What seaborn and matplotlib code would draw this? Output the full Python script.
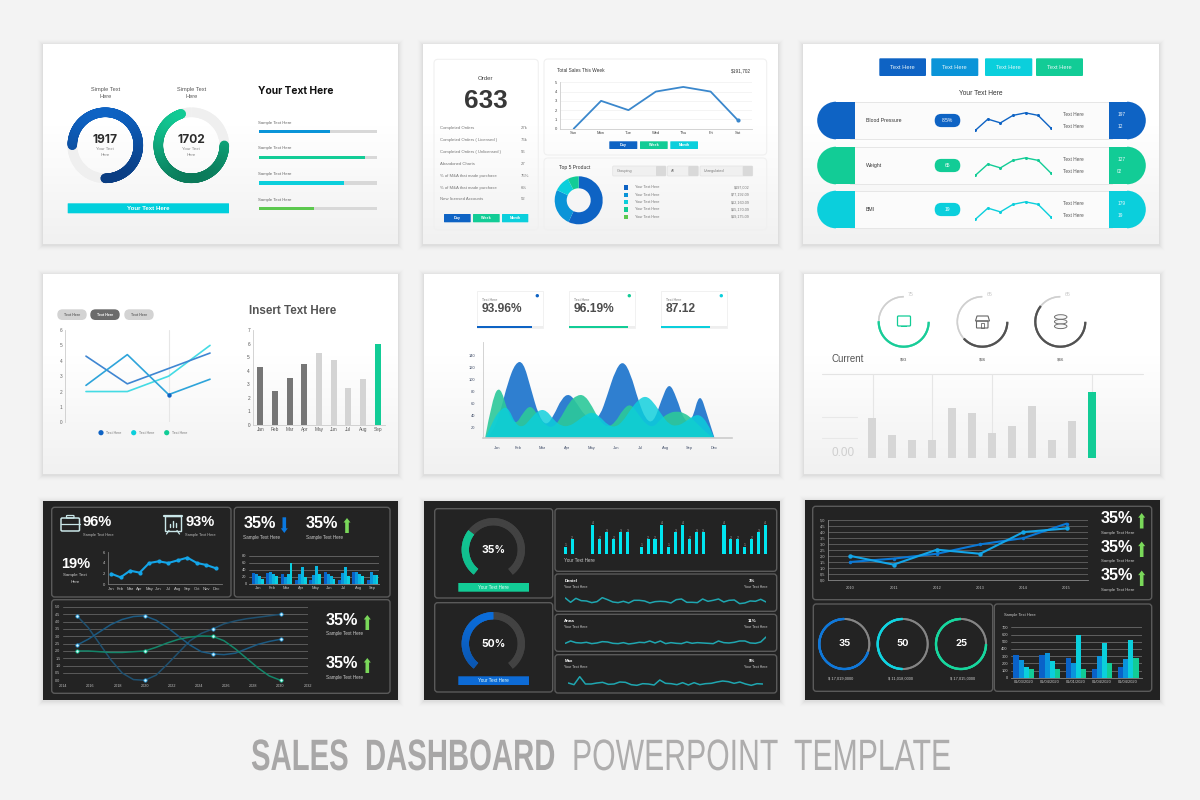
import numpy as np
import pandas as pd
import seaborn as sns
import matplotlib.pyplot as plt
import matplotlib.colors as mcolors
from matplotlib.collections import LineCollection
from matplotlib.path import Path
from matplotlib.patheffects import AbstractPathEffect
from matplotlib.transforms import Affine2D
from matplotlib.patches import Rectangle, FancyBboxPatch, Circle, Ellipse, Polygon, Wedge, FancyArrow, PathPatch

sns.set_theme(style="white")
plt.rcParams["font.family"] = ["Liberation Sans", "DejaVu Sans"]
plt.rcParams["patch.force_edgecolor"] = False
plt.rcParams["patch.linewidth"] = 0

BLUE = "#0e63c4"
MID = "#0a94d8"
CYAN = "#0bcfdc"
GREEN = "#12cc96"
LIME = "#5cc84e"
W, H = 1200, 800

# panel 1
ringLabels = ["1917", "1702"]
ringPct = [75, 70]
progressPct = [60, 90, 72, 47]
progressColors = [MID, GREEN, CYAN, LIME]

# panel 2
orderRows = ["Completed Orders", "Completed Orders ( Licensed )", "Completed Orders ( Unlicensed )", "Abandoned Charts",
             "% of M&A that made purchase", "% of M&A that made purchase", "New licensed Accounts"]
orderVals = ["27k", "76k", "56", "27", "75%", "6%", "52"]
weekDays = ["Sun", "Mon", "Tue", "Wed", "Thu", "Fri", "Sat"]
weekSales = [0, 3, 2, 4, 4.5, 4, 0.9]
productShare = [57, 25, 10.5, 7.5]
productVals = ["$197,002", "$77,192.09", "$62,160.09", "$65,170.09", "$19,175.09"]

# panel 3
vitalNames = ["Blood Pressure", "Weight", "BMI"]
vitalPills = ["8.5%", "65", "19"]
vitalSpark = [1.2, 3.0, 2.4, 3.6, 4.0, 3.6, 1.6]
vitalHigh = ["197", "127", "179"]
vitalLow = ["12", "02", "19"]

# panel 4
lineA = [4.3, 2.5, 3.5, 4.5]
lineB = [2.4, 4.4, 1.8, 2.8]
lineC = [2, 2, 3, 5]
months9 = ["Jan", "Feb", "Mar", "Apr", "May", "Jun", "Jul", "Aug", "Sep"]
monthBars = [4.3, 2.5, 3.5, 4.5, 5.3, 4.8, 2.7, 3.4, 6]

# panel 5
kpiVals = ["93.96%", "96.19%", "87.12"]
kpiPct = [84, 89, 75]
areaBlue = [0, 10, 45, 95, 128, 130, 85, 40, 22, 40, 68, 77, 60, 40, 33, 38, 75, 115, 132, 110, 65, 32, 28, 65, 96, 70, 30, 30, 80, 40, 0]
areaGreen = [0, 70, 90, 45, 23, 45, 58, 38, 22, 20, 38, 62, 74, 74, 55, 30, 20, 28, 50, 60, 42, 25, 20, 35, 44, 47, 44, 35, 22, 10, 0]
areaCyan = [0, 30, 50, 55, 25, 20, 35, 49, 49, 32, 22, 22, 30, 40, 46, 38, 24, 20, 30, 50, 66, 73, 62, 42, 25, 22, 28, 38, 42, 28, 0]
areaMonths = ["Jan", "Feb", "Mar", "Apr", "May", "Jun", "Jul", "Aug", "Sep", "Dec"]
areaMonthPos = [1.6, 4.3, 7.5, 10.7, 13.9, 17.1, 20.3, 23.5, 26.7, 29.9]

# panel 6
dialTop = ["75", "65", "65"]
dialPrice = ["$93", "$36", "$46"]
dialPct = [67, 51, 81]
currentBars = [6.1, 3.55, 2.8, 2.8, 7.5, 6.8, 3.8, 4.8, 7.9, 2.8, 5.65, 9.9]

# panel 7
months12 = ["Jan", "Feb", "Mar", "Apr", "May", "Jun", "Jul", "Aug", "Sep", "Oct", "Nov", "Dec"]
darkMonthly = [1.94, 1.25, 2.5, 2.13, 3.94, 4.25, 3.94, 4.44, 4.94, 3.94, 3.56, 2.94]
groupBars = [[32, 31, 28, 12, 12, 33, 11, 33, 12],
             [28, 33, 20, 29, 25, 27, 30, 34, 34],
             [23, 28, 28, 47, 52, 22, 48, 28, 24],
             [13, 22, 59, 20, 28, 13, 22, 22, 24]]
smoothA = [4.4, 3.6, 2.5, 1.4, 0.5, 0.05, 0, 0.35, 1.1, 1.9, 2.7, 3.2, 3.5, 3.85, 4.05, 4.2, 4.3, 4.4, 4.5]
smoothB = [2.4, 2.8, 3.3, 3.8, 4.15, 4.35, 4.4, 4.1, 3.6, 3.0, 2.4, 1.95, 1.8, 1.75, 1.85, 2.15, 2.45, 2.65, 2.8]
smoothC = [2.0, 2.0, 1.95, 1.9, 1.9, 1.95, 2.0, 2.25, 2.55, 2.8, 2.95, 3.02, 3.0, 2.7, 2.15, 1.5, 0.85, 0.3, 0]
smoothYears = ["2014", "2016", "2018", "2020", "2022", "2024", "2026", "2028", "2030", "2032"]

# panel 8
tickBars = [1, 2, 0, 0, 4, 2, 3, 2, 3, 3, 0, 1, 2, 2, 4, 1, 3, 4, 2, 3, 3, 0, 0, 4, 2, 2, 1, 2, 3, 4]
danielLine = [25, 12, 24, 17, 16, 11, 14, 26, 20, 13, 11, 15, 10, 18, 18, 16, 10, 14, 15, 14, 10, 20, 22, 12, 12, 11, 22, 15, 18, 22, 13, 18, 19, 8, 10, 16, 15, 21, 13]
annaLine = [9, 16, 11, 10, 12, 8, 10, 14, 13, 9, 8, 11, 7, 9, 12, 11, 16, 10, 16, 8, 11, 9, 8, 13, 9, 11, 10, 9, 8, 16, 11, 10, 12, 16, 16, 10, 9, 13, 28]
maxLine = [15, 10, 34, 12, 12, 15, 17, 11, 12, 18, 17, 10, 8, 13, 12, 9, 24, 14, 13, 10, 16, 9, 16, 10, 13, 14, 18, 21, 19, 14, 18, 12, 8, 13, 12]
peopleNames = ["Daniel", "Anna", "Max"]
peoplePct = ["3%", "11%", "9%"]

# panel 9
yearLabels = ["2010", "2011", "2012", "2013", "2014", "2015"]
yearA = [1.52, 1.8, 2.2, 2.98, 3.5, 4.7]
yearB = [2.02, 1.3, 2.54, 2.2, 4.0, 4.3]
circleVals = ["35", "50", "25"]
circlePct = [70, 50, 75]
circleMoney = ["$ 17,019,0000", "$ 11,018,0000", "$ 17,015,0000"]
dateLabels = ["01/03/2020", "01/04/2020", "01/01/2020", "01/04/2020", "01/04/2020"]
dateBars = [[320, 320, 273, 120, 148], [250, 347, 204, 296, 255], [148, 227, 597, 477, 519], [120, 120, 120, 204, 273]]

fig = plt.figure(figsize=(W / 100, H / 100), dpi=100, facecolor="#f3f3f3")
bg = fig.add_axes([0, 0, 1, 1], zorder=0)
bg.set_axis_off()
gradient = np.concatenate([np.ones(40), np.linspace(1, 0, 60)]).reshape(-1, 1)
lightCmap = mcolors.LinearSegmentedColormap.from_list("card", ["#f1f1f1", "#ffffff"])


def panel(x0, y0, x1, y1, xlim=None, ylim=None):
    ax = fig.add_axes([x0 / W, 1 - y1 / H, (x1 - x0) / W, (y1 - y0) / H], zorder=2)
    ax.patch.set_alpha(0)
    ax.limits = (xlim, ylim)
    return ax


def finish(ax, left=False, bottom=False, color="#cccccc", size=3.2, labelcolor="#666666"):
    xlim, ylim = ax.limits
    if xlim:
        ax.set_xlim(*xlim)
    if ylim:
        ax.set_ylim(*ylim)
    ax.set_xlabel("")
    ax.set_ylabel("")
    for side in ["top", "right", "left", "bottom"]:
        ax.spines[side].set_visible(False)
    ax.spines["left"].set_visible(left)
    ax.spines["bottom"].set_visible(bottom)
    ax.spines["left"].set_color(color)
    ax.spines["bottom"].set_color(color)
    ax.spines["left"].set_linewidth(0.6)
    ax.spines["bottom"].set_linewidth(0.6)
    ax.tick_params(length=0, pad=2, labelsize=size, labelcolor=labelcolor)


def txt(x, y, s, px=5, color="#555555", ha="left", weight="normal", family=None):
    kw = {"family": family} if family else {}
    bg.text(x, y, s, fontsize=px * 0.72, color=color, ha=ha, va="center", weight=weight, parse_math=False, zorder=5, **kw)


def rrect(x0, y0, x1, y1, radius=0, fc="none", ec="none", lw=0.8, z=2):
    bg.add_patch(FancyBboxPatch((x0, y0), x1 - x0, y1 - y0, boxstyle=f"round,pad=0,rounding_size={radius}",
                                fc=fc, ec=ec, lw=lw, zorder=z))


def button(x0, y0, x1, y1, s, fc, px=4.5, radius=0.5, color="white", weight="bold"):
    rrect(x0, y0, x1, y1, radius, fc=fc)
    txt((x0 + x1) / 2, (y0 + y1) / 2, s, px, color, "center", weight)


def arc(cx, cy, r, start, sweep, lwPx, top, bottom=None, cap="butt", z=3):
    # angles run clockwise from 12 o'clock
    bottom = bottom or top
    a = np.radians(np.linspace(start, start + sweep, int(max(abs(sweep), 8)) + 1))
    xs, ys = cx + r * np.sin(a), cy - r * np.cos(a)
    n = len(xs) - 1
    # each piece runs over the next one, otherwise the track shows through the joints
    segs = [list(zip(xs[i:i + 3], ys[i:i + 3])) for i in range(n)]
    c0, c1 = np.array(mcolors.to_rgb(top)), np.array(mcolors.to_rgb(bottom))
    cols = [c0 + (c1 - c0) * ((ys[i] - cy + r) / (2 * r)) for i in range(n)]
    bg.add_collection(LineCollection(segs, colors=cols, linewidths=lwPx * 0.72, capstyle=cap, zorder=z))


def card(x0, y0, x1, y1, dark=False):
    for i, alpha in zip(range(6, 0, -1), [0.004, 0.008, 0.012, 0.016, 0.02, 0.025]):
        bg.add_patch(Rectangle((x0 - i, y0 - i + 1), x1 - x0 + 2 * i, y1 - y0 + 2 * i, fc="#000000", alpha=alpha, ec="none", zorder=1))
    if dark:
        bg.add_patch(Rectangle((x0, y0), x1 - x0, y1 - y0, fc="#222222", ec="none", zorder=1.5))
    else:
        bg.imshow(gradient, extent=(x0, x1, y1, y0), cmap=lightCmap, aspect="auto", zorder=1.5, vmin=0, vmax=1)


def darkbox(x0, y0, x1, y1):
    rrect(x0, y0, x1, y1, 3, fc="#232323", ec="#5a5a5a", lw=1.0)


def darkbars(ax):
    ax.grid(axis="y", color="#6a6a6a", lw=0.6)
    ax.set_axisbelow(True)


def arrow(x, y0, y1, color):
    # y0 is the tail, y1 the head
    d = y1 - y0
    bg.add_patch(FancyArrow(x, y0, 0, d, width=3.6, head_width=7, head_length=abs(d) * 0.3, length_includes_head=True, fc=color, ec="none", zorder=4))


def smoothArea(ax, xs, ys, color, alpha):
    # quadratic curve through the midpoints, the read values are the control points
    verts = [(xs[0], 0), (xs[0], ys[0])]
    codes = [Path.MOVETO, Path.LINETO]
    for i in range(1, len(xs) - 1):
        verts += [(xs[i], ys[i]), ((xs[i] + xs[i + 1]) / 2, (ys[i] + ys[i + 1]) / 2)]
        codes += [Path.CURVE3, Path.CURVE3]
    verts += [(xs[-1], ys[-1]), (xs[-1], 0), (xs[0], 0)]
    codes += [Path.LINETO, Path.LINETO, Path.CLOSEPOLY]
    ax.add_patch(PathPatch(Path(verts, codes), fc=color, alpha=alpha, ec="none"))


class Squeeze(AbstractPathEffect):
    # no condensed font is installed, so narrow the glyphs of the text instead
    def __init__(self, anchor, sx):
        super().__init__()
        self.anchor, self.sx = anchor, sx

    def draw_path(self, renderer, gc, tpath, affine, rgbFace=None):
        squeezed = affine + Affine2D().translate(-self.anchor, 0).scale(self.sx, 1).translate(self.anchor, 0)
        renderer.draw_path(gc, tpath, squeezed, rgbFace)


def narrowText(anchor, width, s, ha, weight, color):
    t = bg.text(anchor, 770, s, fontsize=31.6, weight=weight, color=color, ha=ha, va="baseline", zorder=5)
    box = t.get_window_extent(fig.canvas.get_renderer())
    t.set_path_effects([Squeeze(anchor, width / box.width)])


cards = [(43, 44, 398, 244), (423, 44, 778, 244), (803, 44, 1159, 244),
         (43, 274, 398, 474), (424, 274, 779, 474), (804, 274, 1160, 474)]
for c in cards:
    card(*c)
for c in [(43, 501, 398, 700), (424, 501, 780, 700), (805, 500, 1160, 700)]:
    card(*c, dark=True)

# ---- panel 1: rings and progress bars
for cx, label, pct, start, cTop, cBottom in zip([105.3, 191.3], ringLabels, ringPct, [270, 90], [BLUE, GREEN], ["#0a3d82", "#0b7a5a"]):
    arc(cx, 145.3, 33, 0, 360, 9.5, "#efefef")
    arc(cx, 145.3, 33, start, 3.6 * pct, 9.5, cTop, cBottom, cap="round")
    txt(cx, 89, "Simple Text", 5.6, "#555555", "center")
    txt(cx, 96.8, "Here", 5.6, "#555555", "center")
    txt(cx, 140, label, 12, "#2c2c2c", "center", "bold", "Inter")
    txt(cx, 149.5, "Your Text", 4.4, "#888888", "center")
    txt(cx, 155, "Here", 4.4, "#888888", "center")
button(67.7, 203.3, 229, 213.3, "Your Text Here", "#00cfdc", 6.2)
txt(257.5, 91, "Your Text Here", 10.2, "#111111", "left", "bold", "Inter")
for y in [122.7, 148.3, 174, 199.7]:
    txt(258, y, "Sample Text Here", 4.2, "#666666")
axProg = panel(259, 118.9, 376.7, 221.5, (0, 100), (3.5, -0.5))
rows = [f"r{i}" for i in range(4)]
sns.barplot(x=[100] * 4, y=rows, color="#d8d8d8", width=0.13, saturation=1, linewidth=0, ax=axProg)
sns.barplot(x=progressPct, y=rows, hue=rows, palette=progressColors, width=0.13, dodge=False, saturation=1, legend=False, linewidth=0, ax=axProg)
finish(axProg)
axProg.set_xticks([])
axProg.set_yticks([])

# ---- panel 2: order summary
rrect(434, 59.3, 538.3, 230, 4, ec="#f0f0f0")
rrect(544, 59, 766.7, 155, 4, ec="#f0f0f0")
rrect(544, 158, 766.7, 230, 4, ec="#f0f0f0")
txt(486, 78, "Order", 6.2, "#444444", "center")
txt(486, 100.5, "633", 26, "#383838", "center", "bold")
for y, label, val in zip([128, 139.7, 152, 164, 175.7, 188, 199.3], orderRows, orderVals):
    txt(440, y, label, 4.3, "#777777")
    txt(520.7, y, val, 4.3, "#777777")
for x0, x1, s, c in zip([444, 473, 502], [470.7, 499.7, 528.3], ["Day", "Week", "Month"], [BLUE, GREEN, CYAN]):
    button(x0, 214, x1, 222.3, s, c, 3.8)
txt(557, 71, "Total Sales This Week", 4.7, "#333333")
txt(751, 71, "$191,702", 4.7, "#333333", "right")
axWeek = panel(560, 82.3, 751.7, 128.7, (-0.5, 6.5), (0, 5))
sns.lineplot(x=weekDays, y=weekSales, sort=False, estimator=None, color="#3a87cc", linewidth=1.3, ax=axWeek)
finish(axWeek, left=True, bottom=True, size=3.0, labelcolor="#444444")
axWeek.set_yticks(range(6))
axWeek.grid(axis="y", color="#f0f0f0", lw=0.5)
axWeek.scatter([6], [weekSales[-1]], s=9, color="#3a87cc", zorder=5)
for x0, x1, s, c in zip([609.3, 640, 670.3], [637.3, 667.7, 698], ["Day", "Week", "Month"], [BLUE, GREEN, CYAN]):
    button(x0, 141.3, x1, 149, s, c, 3.8)
txt(575, 168, "Top 5 Product", 5, "#333333", "center")
axPie = panel(554.7, 176.3, 602.7, 224.3)
axPie.pie(productShare, colors=[BLUE, MID, CYAN, GREEN], startangle=90, counterclock=False, radius=1, wedgeprops={"width": 0.5, "linewidth": 0})
axPie.set_xlim(-1, 1)
axPie.set_ylim(-1, 1)
for x0, x1, s in zip([612.7, 667.3, 700], [666, 698.3, 752.7], ["Grouping", "All", "Unregulated"]):
    rrect(x0, 166, x1, 176, 1, fc="#f0f0f0", ec="#e2e2e2", lw=0.5)
    rrect(x1 - 10, 166, x1, 176, 1, fc="#d9d9d9")
    txt(x0 + 4, 170.7, s, 3.8, "#777777")
for y, c, val in zip([187.3, 194.7, 202, 209.3, 216.7], [BLUE, MID, CYAN, GREEN, LIME], productVals):
    bg.add_patch(Rectangle((623.5, y - 2.2), 4.4, 4.4, fc=c, ec="none", zorder=3))
    txt(635, y, "Your Text Here", 3.8, "#777777")
    txt(750, y, val, 3.8, "#777777", "right")

# ---- panel 3: vitals
for x0, x1, s, c in zip([879.3, 931.3, 985, 1036], [926, 978.3, 1032.3, 1083], ["Text Here"] * 4, [BLUE, MID, CYAN, GREEN]):
    button(x0, 58.3, x1, 76, s, c, 5.8, 1, "#e8f6f8", "normal")
txt(981, 93.3, "Your Text Here", 6.6, "#333333", "center")
for y0, name, pill, high, low, c in zip([101.7, 146.7, 190.7], vitalNames, vitalPills, vitalHigh, vitalLow, [BLUE, GREEN, CYAN]):
    cy = y0 + 18.8
    bg.add_patch(Rectangle((850, y0), 262, 37.6, fc="#fbfbfb", ec="#e6e6e6", lw=0.7, zorder=2))
    bg.add_patch(Wedge((836, cy), 18.8, 90, 270, fc=c, ec="none", zorder=3))
    bg.add_patch(Rectangle((836, y0), 19, 37.6, fc=c, ec="none", zorder=3))
    bg.add_patch(Wedge((1127, cy), 18.8, 270, 90, fc=c, ec="none", zorder=3))
    bg.add_patch(Rectangle((1108.7, y0), 18.5, 37.6, fc=c, ec="none", zorder=3))
    txt(866, cy + 0.2, name, 5.1, "#333333")
    rrect(934.7, cy - 6.6, 960.3, cy + 6.6, 6.6, fc=c, z=3)
    txt(947.5, cy, pill, 5, "white", "center")
    ax = panel(975.3, y0 + 4.9, 1050.7, y0 + 36.2, (0, 6), (0, 5))
    sns.lineplot(x=list(range(7)), y=vitalSpark, color=c, linewidth=1.0, marker="o", markersize=2.2, markeredgewidth=0, estimator=None, ax=ax)
    finish(ax)
    ax.set_xticks([])
    ax.set_yticks([])
    txt(1063.3, cy - 6.3, "Text Here", 4.8, "#555555")
    txt(1063.3, cy + 6.1, "Text Here", 4.8, "#555555")
    txt(1117.3, cy - 6.3, high, 4.8, "#f2f8fc")
    txt(1117.3, cy + 6.1, low, 4.8, "#f2f8fc")

# ---- panel 4: lines and bars
for x0, x1, c, tc in zip([57.3, 90.3, 124.3], [86.7, 119.7, 153.7], ["#d3d3d3", "#6b6b6b", "#d3d3d3"], ["#666666", "white", "#666666"]):
    rrect(x0, 309.3, x1, 320, 5.3, fc=c)
    txt((x0 + x1) / 2, 314.7, "Text Here", 3.6, tc, "center", "bold")
axLines = panel(65.3, 330, 230.7, 422.3, (-0.5, 3.5), (0, 6))
axLines.axvline(2, color="#e6e6e6", lw=0.8)
sns.lineplot(x=[0, 1, 2, 3], y=lineC, color="#44dbe4", linewidth=1.2, estimator=None, ax=axLines)
sns.lineplot(x=[0, 1, 2, 3], y=lineA, color="#3f86d2", linewidth=1.2, estimator=None, ax=axLines)
sns.lineplot(x=[0, 1, 2, 3], y=lineB, color="#2ea4da", linewidth=1.2, estimator=None, ax=axLines)
axLines.scatter([2], [lineB[2]], s=10, color=BLUE, zorder=5)
finish(axLines, left=True, size=3.4)
axLines.set_xticks([])
axLines.set_yticks(range(7))
for x, c in zip([101, 133.7, 166.7], [BLUE, CYAN, GREEN]):
    bg.add_patch(Circle((x, 432.7), 2.6, fc=c, ec="none", zorder=3))
    txt(x + 5.5, 432.7, "Text Here", 3.6, "#777777")
txt(249, 311, "Insert Text Here", 11.6, "#555555", "left", "bold")
axMonths = panel(252.7, 330.3, 385, 424.7, (-0.52, 8.5), (0, 7))
sns.barplot(x=months9, y=monthBars, hue=months9, palette=["#767676"] * 4 + ["#d4d4d4"] * 4 + [GREEN], width=0.4, dodge=False, saturation=1, legend=False, linewidth=0, ax=axMonths)
finish(axMonths, left=True, bottom=True, size=3.4, labelcolor="#555555")
axMonths.set_yticks(range(8))

# ---- panel 5: KPI boxes and stacked areas
for x0, val, pct, c in zip([477.3, 569.3, 661.3], kpiVals, kpiPct, [BLUE, GREEN, CYAN]):
    bg.add_patch(Rectangle((x0, 290.7), 65.4, 37.6, fc="white", ec="#efefef", lw=0.6, zorder=2))
    txt(x0 + 4.4, 299.7, "Text Here", 3.6, "#777777")
    txt(x0 + 4.4, 308.7, val, 12, "#4d4d4d", "left", "bold")
    bg.add_patch(Circle((x0 + 60, 295.7), 1.7, fc=c, ec="none", zorder=3))
    bg.add_patch(Rectangle((x0, 325.7), 65.4, 2.2, fc="#eeeeee", ec="none", zorder=3))
    bg.add_patch(Rectangle((x0, 325.7), 65.4 * pct / 100, 2.2, fc=c, ec="none", zorder=3))
axArea = panel(483.3, 341.7, 732.3, 437.7, (-0.2, 32.26), (2.8, 162.8))
areaX = list(range(31))
smoothArea(axArea, areaX, areaBlue, "#2f7fd0", 1)
smoothArea(axArea, areaX, areaGreen, "#2cc99a", 0.9)
smoothArea(axArea, areaX, areaCyan, "#0bcfdc", 0.82)
finish(axArea, left=True, bottom=True, size=2.9, labelcolor="#44506a")
axArea.spines["bottom"].set_linewidth(1.2)
axArea.set_xticks(areaMonthPos)
axArea.set_xticklabels(areaMonths)
axArea.set_yticks(range(20, 141, 20))
axArea.tick_params(axis="x", pad=6)
axArea.tick_params(axis="y", pad=6)

# ---- panel 6: dials and bars
for cx, top, price, pct, c in zip([903.7, 982.3, 1060.3], dialTop, dialPrice, dialPct, [GREEN, "#4d4d4d", "#4d4d4d"]):
    arc(cx, 321.7, 25, 90 + 2.7 * pct, 270 - 2.7 * pct, 1.5, "#cfcfcf")
    arc(cx, 321.7, 25, 90, 2.7 * pct, 2.1, c)
    txt(cx + 7, 294.7, top, 5.2, "#c8c8c8", "center")
    txt(cx, 359.3, price, 4.4, "#555555", "center")
# drawn icons
rrect(897.5, 316, 910.5, 326, 1, fc="none", ec=GREEN, lw=0.9, z=3)
bg.add_patch(Rectangle((901, 326), 6, 0.9, fc=GREEN, ec="none", zorder=3))
rrect(976.5, 321, 988, 328, 0.5, ec="#666666", lw=0.8, z=3)
bg.add_patch(Polygon([(977, 316), (988, 316), (989.5, 321), (975.5, 321)], closed=True, fc="none", ec="#666666", lw=0.8, zorder=3))
bg.add_patch(Rectangle((980.5, 323), 3.5, 5, fc="none", ec="#666666", lw=0.6, zorder=3))
for yy in [317, 321.7, 326.3]:
    bg.add_patch(Ellipse((1060.7, yy), 12.5, 4.6, fc="#f8f8f8", ec="#707070", lw=0.7, zorder=3))
txt(831, 359.3, "Current", 9.8, "#555555")
bg.plot([822, 1143.3], [374.3, 374.3], color="#e4e4e4", lw=0.8, zorder=2)
for y in [417, 437.7]:
    bg.plot([822, 857.3], [y, y], color="#e8e8e8", lw=0.8, zorder=2)
txt(842.7, 452.7, "0.00", 11.7, "#cfcfcf", "center")
axCur = panel(861.7, 374.3, 1101.7, 458.3, (-0.5, 11.5), (0, 12.6))
for pos in [0.05, 3.03, 6.03, 11]:
    axCur.axvline(pos, color="#e6e6e6", lw=0.8, zorder=0)
curCats = [str(i) for i in range(12)]
sns.barplot(x=curCats, y=currentBars, hue=curCats, palette=["#d6d6d6"] * 11 + [GREEN], width=0.4, dodge=False, saturation=1, legend=False, linewidth=0, ax=axCur)
finish(axCur)
axCur.set_xticks([])
axCur.set_yticks([])

# ---- panel 7: dark overview
darkbox(51.7, 507.3, 231, 597)
darkbox(234.3, 507.3, 390, 597)
darkbox(51.7, 599.7, 390, 693.3)
iconCol = "#c9e6e8"
rrect(61, 518, 79.5, 531, 1.2, ec=iconCol, lw=1.1, z=3)
bg.plot([61, 79.5], [523.5, 523.5], color=iconCol, lw=0.9, zorder=3)
rrect(66.5, 515.5, 74, 518, 0.6, ec=iconCol, lw=0.9, z=3)
bg.add_patch(Rectangle((165, 516), 16, 14.5, fc="none", ec=iconCol, lw=1.0, zorder=3))
bg.plot([164, 182], [516, 516], color=iconCol, lw=1.6, zorder=3)
bg.plot([169, 166.5], [530.5, 534], color=iconCol, lw=0.9, zorder=3)
bg.plot([177, 179.5], [530.5, 534], color=iconCol, lw=0.9, zorder=3)
for xx, h in zip([170, 173, 176], [3, 6, 4]):
    bg.plot([xx, xx], [527, 527 - h], color=iconCol, lw=1.0, zorder=3)
txt(82.7, 522, "96%", 14.6, "white", "left", "bold")
txt(185, 522, "93%", 14.6, "white", "left", "bold")
txt(82.7, 535.3, "Sample Text Here", 3.9, "#bbbbbb")
txt(185, 535.3, "Sample Text Here", 3.9, "#bbbbbb")
txt(75.3, 564, "19%", 14.6, "white", "center", "bold")
txt(75.3, 575.3, "Sample Text", 4.4, "#cccccc", "center")
txt(75.3, 582, "Here", 4.4, "#cccccc", "center")
axDark = panel(107.7, 552, 221.7, 584, (-0.35, 11.6), (0, 6))
sns.lineplot(x=months12, y=darkMonthly, sort=False, estimator=None, color="#14a5e8", linewidth=1.5, marker="o", markersize=3, markeredgewidth=0, ax=axDark)
finish(axDark, left=True, bottom=True, color="#777777", size=3.0, labelcolor="#c8c8c8")
axDark.set_yticks([0, 2, 4, 6])
txt(243.3, 523, "35%", 16.3, "white", "left", "bold")
txt(305.7, 523, "35%", 16.3, "white", "left", "bold")
txt(243.3, 537, "Sample Text Here", 4.6, "#cccccc")
txt(305.7, 537, "Sample Text Here", 4.6, "#cccccc")
arrow(284.3, 517.3, 533, "#0a78e0")
arrow(347, 533, 518, "#7ad85a")
axGroup = panel(249.3, 555.7, 379.3, 583.7, (-0.6, 8.47), (0, 80))
groupDf = pd.DataFrame({"month": months9 * 4, "value": sum(groupBars, []), "series": sum([[f"s{i}"] * 9 for i in range(4)], [])})
sns.barplot(data=groupDf, x="month", y="value", hue="series", palette=["#0a62c8", "#0a94dc", "#0ab8e0", "#0bd0e0"], width=0.82, saturation=1, legend=False, linewidth=0, ax=axGroup)
darkbars(axGroup)
finish(axGroup, bottom=True, color="#888888", size=2.9, labelcolor="#c8c8c8")
axGroup.set_yticks([0, 20, 40, 60, 80])
axSmooth = panel(63.3, 607, 307.7, 680.3, (2014, 2032), (0, 5))
yearsX = np.linspace(2015, 2030, 19)
markerStyle = {"marker": "o", "markersize": 2.3, "markevery": 6, "markerfacecolor": "#dff6ff", "estimator": None, "clip_on": False}
axSmooth.grid(axis="y", color="#5a5a5a", lw=0.7)
axSmooth.set_axisbelow(True)
sns.lineplot(x=yearsX, y=smoothA, color="#1f506f", linewidth=1.1, markeredgecolor="#2aa0e0", markeredgewidth=0.6, ax=axSmooth, **markerStyle)
sns.lineplot(x=yearsX, y=smoothB, color="#1c5a82", linewidth=1.1, markeredgecolor="#2aa0e0", markeredgewidth=0.6, ax=axSmooth, **markerStyle)
sns.lineplot(x=yearsX, y=smoothC, color="#14866a", linewidth=1.1, markeredgecolor=GREEN, markeredgewidth=0.6, ax=axSmooth, **markerStyle)
finish(axSmooth, size=2.7, labelcolor="#c0c0c0")
axSmooth.set_xticks([int(y) for y in smoothYears])
axSmooth.set_xticklabels(smoothYears)
axSmooth.set_yticks(np.arange(0, 5.1, 0.5))
axSmooth.tick_params(axis="x", pad=3)
for y, sy, a0, a1 in zip([620.3, 663.3], [633.7, 677], [630, 673], [615, 658]):
    txt(326, y, "35%", 16.3, "white", "left", "bold")
    txt(326, sy, "Sample Text Here", 4.6, "#cccccc")
    arrow(367.3, a0, a1, "#7ad85a")

# ---- panel 8: gauges and spark lines
darkbox(434.7, 508.7, 552.7, 598)
darkbox(434.7, 602.7, 552.7, 692)
darkbox(555, 508.7, 776.7, 571.3)
darkbox(555, 574, 776.7, 611.3)
darkbox(555, 614.3, 776.7, 651.3)
darkbox(555, 654.7, 776.7, 693)
for cy, s, sweep, c0, c1, by, bc in zip([549.7, 643.7], ["35%", "50%"], [90, 142], [GREEN, "#0a6fe0"], ["#10c090", "#0a55b0"], [583, 676.3], [GREEN, "#0d6bd6"]):
    arc(493.3, cy, 28, 218, 284, 7.3, "#444444")
    arc(493.3, cy, 28, 218, sweep, 7.3, c0, c1)
    txt(493.3, cy + 0.5, s, 10.5, "white", "center", "bold", "Inter")
    button(458.3, by, 529, by + 8.7, "Your Text Here", bc, 4.6, 0, "#e8fff8", "normal")
axTicks = panel(561.9, 520.3, 768.8, 554, (-0.5, 29.5), (0, 4.6))
tickCats = [str(i) for i in range(30)]
sns.barplot(x=tickCats, y=tickBars, color="#00e5f0", width=0.45, saturation=1, linewidth=0, ax=axTicks)
for i, v in enumerate(tickBars):
    if v > 0:
        axTicks.text(i, v + 0.2, str(v), fontsize=2.4, color="#aaaaaa", ha="center", va="center")
finish(axTicks)
axTicks.set_xticks([])
axTicks.set_yticks([])
txt(563.7, 560.3, "Your Text Here", 4.6, "#cccccc")
sparkBoxes = [(565.3, 766, 593, 606.3, 40), (565.3, 766, 633, 646.3, 40), (568.3, 762.7, 676, 688, 36)]
for (x0, x1, y0, y1, top), series, name, pct, ty in zip(sparkBoxes, [danielLine, annaLine, maxLine], peopleNames, peoplePct, [581, 621, 661.3]):
    ax = panel(x0, y0, x1, y1, (0, len(series) - 1), (0, top))
    sns.lineplot(x=list(range(len(series))), y=series, color="#1fa6b0", linewidth=1.1, estimator=None, ax=ax)
    finish(ax)
    ax.set_xticks([])
    ax.set_yticks([])
    txt(564.3, ty, name, 4.4, "white", "left", "bold")
    txt(564.3, ty + 5.5, "Your Text Here", 3.6, "#cccccc")
    txt(752.3, ty, pct, 4.4, "white", "center", "bold")
    txt(767.7, ty + 5.5, "Your Text Here", 3.6, "#cccccc", "right")

# ---- panel 9: yearly lines, rings, grouped bars
darkbox(812.7, 506.3, 1151.7, 599.7)
darkbox(813.3, 604, 992.7, 691.3)
darkbox(994.3, 604, 1151.7, 691.3)
axYear = panel(828.3, 520, 1088.3, 580.3, (-0.51, 5.5), (0, 5))
axYear.grid(axis="y", color="#5a5a5a", lw=0.7)
axYear.set_axisbelow(True)
sns.lineplot(x=yearLabels, y=yearA, sort=False, estimator=None, color="#0a78d6", linewidth=1.5, marker="o", markersize=2.5, markeredgewidth=0, ax=axYear)
sns.lineplot(x=yearLabels, y=yearB, sort=False, estimator=None, color="#14a5e8", linewidth=1.5, marker="o", markersize=3.2, markeredgewidth=0, ax=axYear)
finish(axYear, left=True, bottom=True, color="#888888", size=2.9, labelcolor="#c0c0c0")
axYear.set_yticks(np.arange(0, 5.1, 0.5))
axYear.set_yticklabels([f"{v:.1f}".replace(".", ",") for v in np.arange(0, 5.1, 0.5)])
axYear.tick_params(axis="x", pad=4)
for y, sy, a0, a1 in zip([518.7, 547.3, 576], [532.7, 561.3, 590.3], [528.5, 557, 586], [513, 541.5, 570.5]):
    txt(1100.7, y, "35%", 16.3, "white", "left", "bold")
    txt(1100.7, sy, "Sample Text Here", 4.2, "#cccccc")
    arrow(1141.7, a0, a1, "#7ad85a")
for cx, s, pct, money, mx, c, start in zip([844.3, 902.7, 961], circleVals, circlePct, circleMoney, [840.7, 900.7, 962.3], ["#0a78e0", "#0bd8e6", "#12dca0"], [108, 180, 90]):
    arc(cx, 644, 25, 0, 360, 1.9, "#8a8a8a")
    arc(cx, 644, 25, start, 3.6 * pct, 2.3, c)
    txt(cx, 644, s, 9.5, "white", "center", "bold", "Inter")
    txt(mx, 678.3, money, 4.0, "#cccccc", "center")
txt(1004, 615.3, "Sample Text Here", 4.0, "#cccccc")
axDate = panel(1010.7, 627.3, 1141.7, 677.7, (-0.5, 4.52), (0, 700))
dateDf = pd.DataFrame({"value": sum(dateBars, []), "series": sum([[f"s{i}"] * 5 for i in range(4)], []), "slot": list(range(5)) * 4})
sns.barplot(data=dateDf, x="slot", y="value", hue="series", palette=["#0a62c8", "#0a94dc", CYAN, GREEN], width=0.8, saturation=1, legend=False, linewidth=0, ax=axDate)
darkbars(axDate)
finish(axDate, bottom=True, color="#888888", size=2.9, labelcolor="#c8c8c8")
axDate.set_xticks(range(5))
axDate.set_xticklabels(dateLabels)
axDate.set_yticks(range(0, 701, 100))

# ---- footer title, two spaces because the squeeze narrows the word gap too
narrowText(555, 304, "SALES  DASHBOARD", "right", "bold", "#a8a7a7")
narrowText(572, 379, "POWERPOINT  TEMPLATE", "left", "normal", "#aeadad")

bg.set_xlim(0, W)
bg.set_ylim(H, 0)
plt.savefig("out.png", dpi=100, facecolor=fig.get_facecolor())
plt.close()
